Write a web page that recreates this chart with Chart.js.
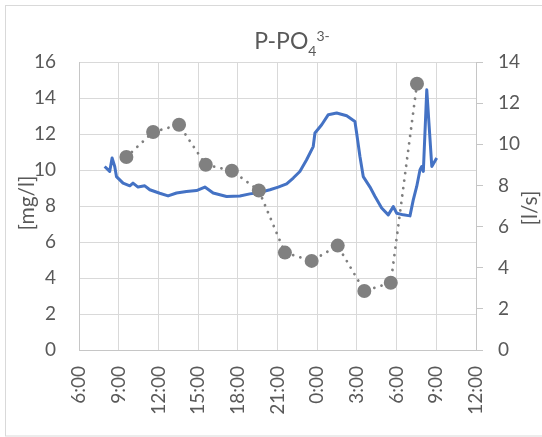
<!DOCTYPE html>
<html>
<head>
<meta charset="utf-8">
<script src="https://cdn.jsdelivr.net/npm/chart.js@4/dist/chart.umd.min.js"></script>
<style>
  html, body { margin: 0; padding: 0; background: #fff; }
  #c { display: block; }
</style>
</head>
<body>
<canvas id="c" width="542" height="437"></canvas>
<script>
// Time is expressed in hours from midnight of the first day (24+ = next day).

// P-PO4 grab samples [mg/l]
const sampleHours = [9.58, 11.60, 13.56, 15.58, 17.55, 19.59, 21.56, 23.58, 25.55, 27.56, 29.56, 31.54];
const phosphate   = [10.72, 12.11, 12.51, 10.29, 9.96, 8.86, 5.41, 4.95, 5.80, 3.28, 3.74, 14.79];

// Flow record [l/s]
const flowHours = [7.94, 8.32, 8.50, 8.70, 8.83, 9.33, 9.84, 10.08, 10.46, 10.97, 11.35, 12.10,
                   12.73, 13.37, 14.12, 14.88, 15.51, 16.14, 17.15, 18.16, 18.91, 19.67, 20.43,
                   21.05, 21.69, 22.19, 22.69, 23.20, 23.70, 23.83, 24.34, 24.84, 25.47, 26.23,
                   26.85, 26.98, 27.23, 27.48, 27.99, 28.37, 28.87, 29.37, 29.75, 30.01, 30.51,
                   31.01, 31.26, 31.52, 31.77, 31.90, 32.02, 32.28, 32.66, 33.03];
const flow      = [8.92, 8.68, 9.33, 8.92, 8.43, 8.11, 7.98, 8.11, 7.92, 7.98, 7.79, 7.62,
                   7.49, 7.63, 7.70, 7.75, 7.92, 7.63, 7.46, 7.49, 7.59, 7.66, 7.79,
                   7.92, 8.08, 8.36, 8.68, 9.25, 9.89, 10.55, 10.95, 11.44, 11.52, 11.39,
                   11.11, 10.55, 9.41, 8.43, 7.92, 7.46, 6.90, 6.57, 6.97, 6.65, 6.57,
                   6.52, 7.30, 7.95, 8.76, 8.92, 8.68, 12.65, 8.92, 9.33];

// Axis tick labels
const timeTicks = ['6:00', '9:00', '12:00', '15:00', '18:00', '21:00', '0:00', '3:00', '6:00', '9:00', '12:00'];
const concTicks = [0, 2, 4, 6, 8, 10, 12, 14, 16];
const flowTicks = [0, 2, 4, 6, 8, 10, 12, 14];

const TEXT = '#595959';
const GRID = '#d9d9d9';
const AXIS = '#c6c6c6';
const FONT = 'Lato, "Open Sans", sans-serif';
const TICK_FONT = { family: FONT, size: 19 };

const toPoints = (xs, ys) => xs.map((x, i) => ({ x, y: ys[i] }));

// Title, rotated axis titles and the outer frame
const decorations = {
  id: 'decorations',
  afterDraw(chart) {
    const ctx = chart.ctx;
    ctx.save();
    ctx.fillStyle = TEXT;
    ctx.textAlign = 'left';
    ctx.textBaseline = 'alphabetic';

    const big = '23px ' + FONT, small = '14px ' + FONT;
    ctx.font = big;  const wMain = ctx.measureText('P-PO').width;
    ctx.font = small; const wSub = ctx.measureText('4').width;
    const wSup = ctx.measureText('3-').width;
    let x = 292 - (wMain + wSub + wSup) / 2;
    ctx.font = big;  ctx.fillText('P-PO', x, 49); x += wMain;
    ctx.font = small; ctx.fillText('4', x, 56); x += wSub;
    ctx.fillText('3-', x, 41);

    ctx.font = '21px ' + FONT;
    ctx.textAlign = 'center';
    ctx.textBaseline = 'middle';
    ctx.save();
    ctx.translate(27, 203);
    ctx.rotate(-Math.PI / 2);
    ctx.fillText('[mg/l]', 0, 0);
    ctx.restore();
    ctx.save();
    ctx.translate(530, 208);
    ctx.rotate(-Math.PI / 2);
    ctx.fillText('[l/s]', 0, 0);
    ctx.restore();

    ctx.strokeStyle = GRID;
    ctx.lineWidth = 1;
    ctx.strokeRect(5.5, 5.5, 545, 430.5);
    ctx.restore();
  }
};

new Chart(document.getElementById('c'), {
  type: 'line',
  data: {
    datasets: [
      {
        label: 'P-PO4',
        data: toPoints(sampleHours, phosphate),
        yAxisID: 'yConc',
        borderColor: '#7f7f7f',
        borderWidth: 2.8,
        borderDash: [0.01, 7.5],
        borderCapStyle: 'round',
        backgroundColor: '#808080',
        pointRadius: 7,
        pointBorderWidth: 0,
        pointBackgroundColor: '#808080',
        tension: 0
      },
      {
        label: 'Q',
        data: toPoints(flowHours, flow),
        yAxisID: 'yFlow',
        borderColor: '#4472C4',
        borderWidth: 3,
        borderJoinStyle: 'round',
        pointRadius: 0,
        tension: 0
      }
    ]
  },
  options: {
    responsive: false,
    animation: false,
    events: [],
    layout: { padding: { top: 62, left: 0, right: 0, bottom: 0 } },
    plugins: { legend: { display: false }, title: { display: false }, tooltip: { enabled: false } },
    scales: {
      x: {
        type: 'linear',
        min: 6, max: 36,
        afterBuildTicks: s => { s.ticks = timeTicks.map((_, i) => ({ value: 6 + 3 * i })); },
        afterFit: s => { s.height = 87; },
        ticks: {
          callback: (v, i) => timeTicks[i],
          maxRotation: 90, minRotation: 90,
          padding: 16,
          color: TEXT,
          font: TICK_FONT
        },
        grid: { color: GRID, drawTicks: false },
        border: { color: AXIS }
      },
      yConc: {
        position: 'left',
        min: 0, max: 16,
        afterBuildTicks: s => { s.ticks = concTicks.map(v => ({ value: v })); },
        afterFit: s => { s.width = 79; },
        ticks: { padding: 23, color: TEXT, font: TICK_FONT },
        grid: { color: GRID, drawTicks: false },
        border: { color: AXIS }
      },
      yFlow: {
        position: 'right',
        min: 0, max: 14,
        afterBuildTicks: s => { s.ticks = flowTicks.map(v => ({ value: v })); },
        afterFit: s => { s.width = 66; },
        ticks: { padding: 15, color: TEXT, font: TICK_FONT },
        grid: { drawOnChartArea: false, drawTicks: true, tickLength: 7, color: AXIS },
        border: { color: AXIS }
      }
    }
  },
  plugins: [decorations]
});
</script>
</body>
</html>
